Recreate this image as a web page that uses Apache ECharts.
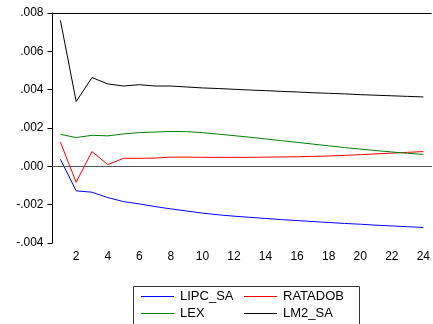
<!DOCTYPE html>
<html>
<head>
<meta charset="utf-8">
<title>Impulse response</title>
<script src="https://cdn.jsdelivr.net/npm/echarts@6/dist/echarts.min.js"></script>
<style>
	html, body { margin: 0; padding: 0; background: #fff; }
	#main { width: 433px; height: 324px; }
</style>
</head>
<body>
	<div id="main"></div>
<script type="text/javascript">
	// periods 1..24
	var periods = ['1', '2', '3', '4', '5', '6', '7', '8', '9', '10', '11', '12',
		'13', '14', '15', '16', '17', '18', '19', '20', '21', '22', '23', '24'];
	// responses (units of .001)
	var lipcSa = [0.37, -1.28, -1.35, -1.63, -1.84, -1.96, -2.10, -2.22, -2.33, -2.44, -2.53, -2.60,
		-2.66, -2.72, -2.78, -2.83, -2.88, -2.93, -2.98, -3.02, -3.07, -3.11, -3.15, -3.19];
	var ratadob = [1.26, -0.83, 0.77, 0.09, 0.42, 0.42, 0.43, 0.48, 0.48, 0.47, 0.47, 0.47,
		0.47, 0.48, 0.49, 0.50, 0.52, 0.54, 0.57, 0.61, 0.65, 0.69, 0.73, 0.77];
	var lex = [1.67, 1.50, 1.62, 1.59, 1.69, 1.76, 1.79, 1.82, 1.81, 1.76, 1.68, 1.60,
		1.52, 1.43, 1.34, 1.25, 1.16, 1.07, 0.98, 0.90, 0.82, 0.75, 0.68, 0.62];
	var lm2Sa = [7.62, 3.38, 4.63, 4.30, 4.19, 4.26, 4.19, 4.19, 4.14, 4.09, 4.06, 4.02,
		3.98, 3.95, 3.91, 3.88, 3.84, 3.81, 3.78, 3.74, 3.71, 3.68, 3.65, 3.62];

	var FONT = 'Liberation Sans, Arial, sans-serif';

	// .001 units -> real value
	function scale(arr) {
		var out = [];
		for (var i in arr) {
			out.push(arr[i] / 1000);
		}
		return out;
	}
	// .008 / -.004 style labels
	function fmt(v) {
		var r = Math.round(v * 1000);
		var s = '.00' + Math.abs(r);
		return (r < 0 ? '-' : '') + s;
	}
	function line(name, data, color) {
		return {
			name: name,
			type: 'line',
			data: scale(data),
			symbol: 'none',
			color: color,
			lineStyle: { color: color, width: 1 },
			itemStyle: { color: color }
		};
	}

	var chart = echarts.init(document.getElementById('main'), null, { renderer: 'canvas' });
	var series = [
		line('LIPC_SA', lipcSa, '#0000ff'),
		line('RATADOB', ratadob, '#ff0000'),
		line('LEX', lex, '#008000'),
		line('LM2_SA', lm2Sa, '#000000')
	];
	// zero line (unnamed helper series)
	series.push({
		type: 'line',
		data: [],
		silent: true,
		markLine: {
			silent: true,
			symbol: 'none',
			label: { show: false },
			lineStyle: { color: '#555', width: 1, type: 'solid' },
			data: [{ yAxis: 0 }]
		}
	});

	// legend box, 2 columns x 2 rows, drawn as graphics
	var legendGraphics = [{
		type: 'rect',
		shape: { x: 133.5, y: 286.5, width: 226, height: 50 },
		style: { fill: '#fff', stroke: '#333', lineWidth: 1 },
		silent: true
	}];
	for (var k = 0; k < 4; k++) {
		var lx = (k % 2 === 0) ? 141 : 244;
		var ly = (k < 2) ? 296.5 : 313.5;
		legendGraphics.push({
			type: 'line',
			shape: { x1: lx, y1: ly, x2: lx + 33, y2: ly },
			style: { stroke: series[k].color, lineWidth: 1 },
			silent: true
		});
		legendGraphics.push({
			type: 'text',
			x: lx + 39,
			y: ly,
			style: {
				text: series[k].name, fill: '#000', font: '13px ' + FONT,
				verticalAlign: 'middle', align: 'left'
			},
			silent: true
		});
	}

	var option = {
		animation: false,
		grid: { left: 52.5, right: 0, top: 13, bottom: 81 },
		xAxis: [{
			type: 'category',
			data: periods,
			boundaryGap: true,
			axisLine: { lineStyle: { color: '#000', width: 1 } },
			axisTick: { interval: 0, length: 5, lineStyle: { color: '#000' } },
			axisLabel: {
				interval: function (idx) { return idx % 2 === 1; },
				margin: 8, color: '#000', fontFamily: FONT, fontSize: 12
			},
			splitLine: { show: false }
		}, {
			type: 'category',
			position: 'top',
			data: periods,
			axisLine: { lineStyle: { color: '#000', width: 1 } },
			axisTick: { show: false },
			axisLabel: { show: false }
		}],
		yAxis: {
			type: 'value',
			min: -0.004,
			max: 0.008,
			interval: 0.002,
			axisLine: { show: true, lineStyle: { color: '#000', width: 1 } },
			axisTick: { show: true, length: 5, lineStyle: { color: '#000' } },
			axisLabel: { formatter: fmt, margin: 9, color: '#000', fontFamily: FONT, fontSize: 12 },
			splitLine: { show: false }
		},
		graphic: legendGraphics,
		series: series
	};
	chart.setOption(option);
</script>
</body>
</html>
